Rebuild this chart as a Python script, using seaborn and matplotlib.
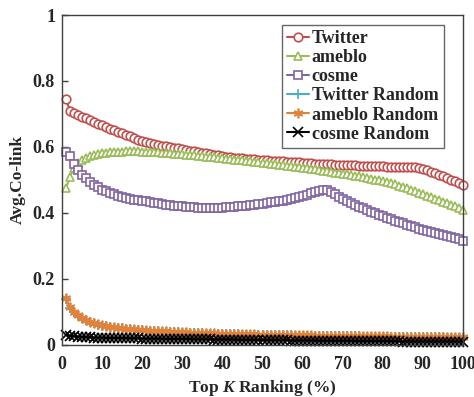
import numpy as np
import pandas as pd
import matplotlib
matplotlib.use("Agg")
import matplotlib.pyplot as plt
import seaborn as sns

K = list(range(1, 101))

twitter = [0.744, 0.710, 0.703, 0.697, 0.691, 0.686, 0.680, 0.675, 0.670, 0.665,
           0.660, 0.655, 0.650, 0.646, 0.641, 0.636, 0.632, 0.627, 0.622, 0.618,
           0.615, 0.612, 0.609, 0.606, 0.603, 0.601, 0.599, 0.597, 0.595, 0.593,
           0.590, 0.588, 0.586, 0.584, 0.582, 0.580, 0.578, 0.576, 0.574, 0.572,
           0.570, 0.569, 0.567, 0.566, 0.565, 0.564, 0.563, 0.562, 0.561, 0.560,
           0.559, 0.558, 0.558, 0.557, 0.556, 0.555, 0.554, 0.553, 0.553, 0.552,
           0.551, 0.550, 0.549, 0.548, 0.548, 0.547, 0.547, 0.546, 0.546, 0.545,
           0.545, 0.544, 0.544, 0.543, 0.543, 0.542, 0.542, 0.541, 0.541, 0.541,
           0.540, 0.540, 0.540, 0.539, 0.539, 0.539, 0.538, 0.538, 0.537, 0.534,
           0.530, 0.525, 0.520, 0.515, 0.510, 0.505, 0.500, 0.495, 0.490, 0.484]

ameblo = [0.474, 0.509, 0.535, 0.550, 0.560, 0.566, 0.571, 0.575, 0.578, 0.580,
          0.582, 0.583, 0.584, 0.585, 0.585, 0.586, 0.586, 0.586, 0.586, 0.585,
          0.585, 0.584, 0.583, 0.583, 0.582, 0.581, 0.580, 0.579, 0.578, 0.577,
          0.576, 0.575, 0.574, 0.573, 0.572, 0.570, 0.569, 0.568, 0.567, 0.565,
          0.564, 0.563, 0.561, 0.560, 0.559, 0.557, 0.556, 0.555, 0.553, 0.552,
          0.551, 0.549, 0.548, 0.546, 0.545, 0.543, 0.542, 0.540, 0.539, 0.537,
          0.535, 0.534, 0.532, 0.530, 0.528, 0.526, 0.524, 0.522, 0.520, 0.518,
          0.516, 0.514, 0.512, 0.510, 0.508, 0.505, 0.503, 0.500, 0.498, 0.495,
          0.492, 0.489, 0.486, 0.482, 0.478, 0.474, 0.469, 0.465, 0.460, 0.456,
          0.451, 0.447, 0.442, 0.438, 0.433, 0.429, 0.424, 0.419, 0.414, 0.409]

cosme = [0.585, 0.572, 0.548, 0.529, 0.514, 0.504, 0.494, 0.485, 0.477, 0.470,
         0.465, 0.460, 0.456, 0.452, 0.449, 0.446, 0.443, 0.440, 0.438, 0.436,
         0.434, 0.432, 0.430, 0.428, 0.426, 0.424, 0.423, 0.421, 0.420, 0.419,
         0.418, 0.417, 0.416, 0.415, 0.414, 0.414, 0.414, 0.414, 0.414, 0.415,
         0.416, 0.417, 0.418, 0.419, 0.420, 0.421, 0.422, 0.423, 0.425, 0.427,
         0.429, 0.431, 0.433, 0.435, 0.437, 0.439, 0.442, 0.445, 0.448, 0.451,
         0.455, 0.459, 0.463, 0.467, 0.470, 0.469, 0.463, 0.456, 0.449, 0.442,
         0.436, 0.430, 0.424, 0.418, 0.413, 0.408, 0.403, 0.398, 0.393, 0.389,
         0.384, 0.380, 0.376, 0.372, 0.368, 0.364, 0.360, 0.356, 0.352, 0.348,
         0.345, 0.341, 0.338, 0.335, 0.331, 0.328, 0.325, 0.322, 0.319, 0.313]

twitter_random = [0.138, 0.112, 0.098, 0.088, 0.080, 0.073, 0.068, 0.064, 0.060, 0.057,
                  0.055, 0.053, 0.051, 0.050, 0.049, 0.047, 0.046, 0.045, 0.044, 0.043,
                  0.042, 0.041, 0.041, 0.040, 0.039, 0.039, 0.038, 0.037, 0.037, 0.036,
                  0.036, 0.035, 0.035, 0.034, 0.034, 0.033, 0.033, 0.033, 0.032, 0.032,
                  0.032, 0.031, 0.031, 0.031, 0.030, 0.030, 0.030, 0.030, 0.029, 0.029,
                  0.029, 0.029, 0.028, 0.028, 0.028, 0.028, 0.028, 0.027, 0.027, 0.027,
                  0.027, 0.027, 0.026, 0.026, 0.026, 0.026, 0.026, 0.026, 0.025, 0.025,
                  0.025, 0.025, 0.025, 0.025, 0.024, 0.024, 0.024, 0.024, 0.024, 0.024,
                  0.024, 0.023, 0.023, 0.023, 0.023, 0.023, 0.023, 0.023, 0.022, 0.022,
                  0.022, 0.022, 0.022, 0.022, 0.022, 0.021, 0.021, 0.021, 0.021, 0.021]

ameblo_random = [0.140, 0.115, 0.100, 0.090, 0.081, 0.074, 0.069, 0.065, 0.061, 0.058,
                 0.056, 0.054, 0.052, 0.051, 0.050, 0.048, 0.047, 0.046, 0.045, 0.044,
                 0.043, 0.042, 0.042, 0.041, 0.040, 0.040, 0.039, 0.038, 0.038, 0.037,
                 0.037, 0.036, 0.036, 0.035, 0.035, 0.034, 0.034, 0.034, 0.033, 0.033,
                 0.033, 0.032, 0.032, 0.032, 0.031, 0.031, 0.031, 0.031, 0.030, 0.030,
                 0.030, 0.030, 0.029, 0.029, 0.029, 0.029, 0.029, 0.028, 0.028, 0.028,
                 0.028, 0.028, 0.027, 0.027, 0.027, 0.027, 0.027, 0.027, 0.026, 0.026,
                 0.026, 0.026, 0.026, 0.026, 0.025, 0.025, 0.025, 0.025, 0.025, 0.025,
                 0.025, 0.024, 0.024, 0.024, 0.024, 0.024, 0.024, 0.024, 0.023, 0.023,
                 0.023, 0.023, 0.023, 0.023, 0.023, 0.022, 0.022, 0.022, 0.022, 0.022]

cosme_random = [0.030, 0.027, 0.025, 0.024, 0.023, 0.022, 0.022, 0.021, 0.021, 0.021,
                0.020, 0.020, 0.020, 0.020, 0.019, 0.019, 0.019, 0.019, 0.019, 0.018,
                0.018, 0.018, 0.018, 0.018, 0.018, 0.017, 0.017, 0.017, 0.017, 0.017,
                0.017, 0.016, 0.016, 0.016, 0.016, 0.016, 0.016, 0.015, 0.015, 0.015,
                0.015, 0.015, 0.015, 0.014, 0.014, 0.014, 0.014, 0.014, 0.014, 0.013,
                0.013, 0.013, 0.013, 0.013, 0.013, 0.013, 0.012, 0.012, 0.012, 0.012,
                0.012, 0.012, 0.012, 0.011, 0.011, 0.011, 0.011, 0.011, 0.011, 0.011,
                0.011, 0.011, 0.010, 0.010, 0.010, 0.010, 0.010, 0.010, 0.010, 0.010,
                0.010, 0.010, 0.010, 0.010, 0.009, 0.009, 0.009, 0.009, 0.009, 0.009,
                0.009, 0.009, 0.009, 0.009, 0.009, 0.009, 0.009, 0.009, 0.009, 0.009]

series_names = ["Twitter", "ameblo", "cosme", "Twitter Random", "ameblo Random", "cosme Random"]
series_values = [twitter, ameblo, cosme, twitter_random, ameblo_random, cosme_random]
colors = ["#C0504D", "#9BBB59", "#8064A2", "#4BACC6", "#E0823A", "#000000"]
markers = ["o", "^", "s", "+", (6, 2, 0), "x"]

x_ticks = list(range(0, 101, 10))
y_ticks = [0, 0.2, 0.4, 0.6, 0.8, 1.0]
y_tick_labels = ["0", "0.2", "0.4", "0.6", "0.8", "1"]

sns.set_theme(style="white")
plt.rcParams["font.family"] = ["Liberation Serif", "DejaVu Serif"]
plt.rcParams["font.weight"] = "bold"
plt.rcParams["mathtext.fontset"] = "custom"
plt.rcParams["mathtext.it"] = "Liberation Serif:italic:bold"
plt.rcParams["mathtext.rm"] = "Liberation Serif:bold"

fig = plt.figure(figsize=(4.74, 3.97), dpi=100)
ax = fig.add_axes([62 / 474, 1 - 344.5 / 397, (463 - 62) / 474, (344.5 - 15) / 397])

for name, vals, c, m in zip(series_names, series_values, colors, markers):
    df = pd.DataFrame({"K": K, "v": vals})
    open_marker = m in ("o", "^", "s")
    sns.lineplot(data=df, x="K", y="v", ax=ax, color=c, marker=m,
                 markersize=6.2 if open_marker else 7,
                 markerfacecolor="white" if open_marker else c,
                 markeredgecolor=c, markeredgewidth=1.2,
                 linewidth=1.5, label=name, clip_on=False)

ax.set_xlim(0, 100)
ax.set_ylim(0, 1)
ax.set_xticks(x_ticks)
ax.set_yticks(y_ticks)
ax.set_yticklabels(y_tick_labels)
ax.tick_params(axis="y", direction="in", length=4, width=1, color="#404040",
               labelsize=13, pad=5, left=True)
ax.tick_params(axis="x", length=0, labelsize=13, pad=8)
for lab in ax.get_xticklabels() + ax.get_yticklabels():
    lab.set_fontweight("bold")
for sp in ax.spines.values():
    sp.set_color("#404040")
    sp.set_linewidth(1.0)

ax.set_xlabel("Top $K$ Ranking (%)", fontsize=12.5, fontweight="bold", labelpad=4)
ax.set_ylabel("Avg.Co-link", fontsize=12.5, fontweight="bold", labelpad=5)

leg = ax.legend(loc="upper right", bbox_to_anchor=((444 - 62) / 401, 1 - 9.5 / 329.5),
                frameon=True, fancybox=False, prop={"weight": "bold", "size": 13},
                handlelength=1.2, handletextpad=0.15, labelspacing=0.12,
                borderpad=0.3, borderaxespad=0.0)
leg.get_frame().set_edgecolor("#404040")
leg.get_frame().set_linewidth(1.0)

fig.savefig("out.png", dpi=100)
